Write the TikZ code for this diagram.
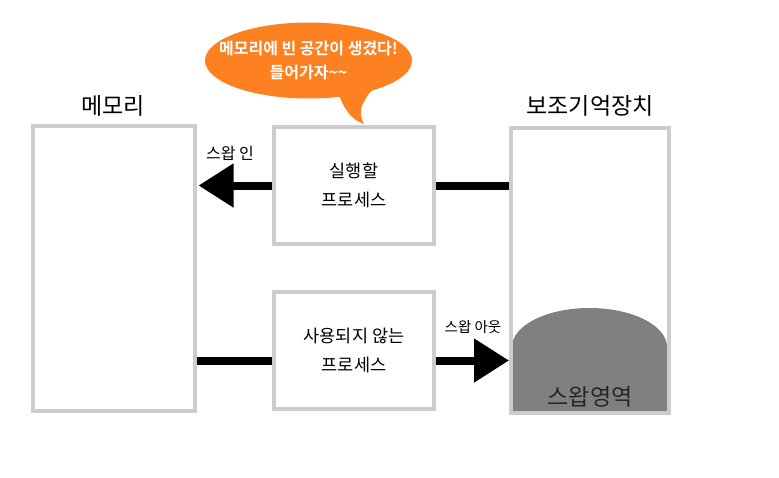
\documentclass[tikz,border=0pt]{standalone}
\usepackage{fontspec}
\setmainfont{Noto Sans CJK KR}[BoldFont={Noto Sans CJK KR Bold}]
\usetikzlibrary{arrows.meta}
\definecolor{boxgray}{RGB}{204,204,204}
\definecolor{swapgray}{RGB}{128,128,128}
\definecolor{bubbleorange}{RGB}{253,128,33}

\begin{document}
\begin{tikzpicture}[x=1pt, y=-1pt]
    \tikzstyle{every node} = [align=center]
    \tikzstyle{box} = [draw=boxgray, line width=4pt]
    \tikzstyle{bigbox} = [box, minimum width=160pt, minimum height=285pt]
    \tikzstyle{procbox} = [box, minimum width=160pt, minimum height=117pt, font=\fontsize{17.5}{29}\selectfont]
    \tikzstyle{title} = [font=\fontsize{23}{26}\selectfont]
    \tikzstyle{swaplabel} = [font=\fontsize{16}{18}\selectfont]
    \tikzstyle{link} = [line width=8pt]
    \tikzstyle{swap} = [link, -{Triangle[length=35pt,width=42pt]}]
    \tikzstyle{bubbletext} = [text=white, font=\bfseries\fontsize{16}{24}\selectfont]
    \useasboundingbox (0,0) rectangle (779,477);

    % swap area under the storage box
    \fill [swapgray] (512,411) -- (512,347) arc [start angle=180, end angle=360, x radius=77.5, y radius=39] -- (667,411) -- cycle;
    \node [title, text=black!85] (swaparea) at (590,397) {스왑영역};

    % boxes
    \node [bigbox, minimum width=162pt] (mem) at (113.5,268.5) {};
    \node [bigbox, minimum width=158pt] (store) at (590,270.5) {};
    \node [procbox] (proc1) at (354,185.5) {실행할\\프로세스};
    \node [procbox] (proc2) at (354,350.5) {사용되지 않는\\프로세스};
    \node [title] (memlabel) at (113,106) {메모리};
    \node [title] (storelabel) at (590,106) {보조기억장치};

    % connectors
    \draw [swap] (proc1.west) -- ([xshift=2pt]proc1.west -| mem.east);
    \draw [link] (store.west |- proc1.east) -- (proc1.east);
    \draw [link] ([yshift=-10pt]mem.east |- proc2.west) -- ([yshift=-10pt]proc2.west);
    \draw [swap] ([yshift=-10pt]proc2.east) -- ([yshift=-10pt]proc2.east -| store.west);
    \node [swaplabel] (inlabel) at (230,153) {스왑 인};
    \node [swaplabel, font=\fontsize{14.5}{16}\selectfont] (outlabel) at (473,327) {스왑 아웃};

    % speech bubble
    \coordinate (bubblec) at (308.5,60.5);
    \coordinate (tip) at (364,124);
    \fill [bubbleorange] (bubblec) ellipse [x radius=103.5, y radius=38];
    \fill [bubbleorange] (338,92) .. controls (344,110) and (352,120) .. (tip) .. controls (358,114) and (360,104) .. (372,90) -- cycle;
    \node [bubbletext] (bubble) at (bubblec) {메모리에 빈 공간이 생겼다!\\들어가자\textasciitilde\textasciitilde};
\end{tikzpicture}
\end{document}
